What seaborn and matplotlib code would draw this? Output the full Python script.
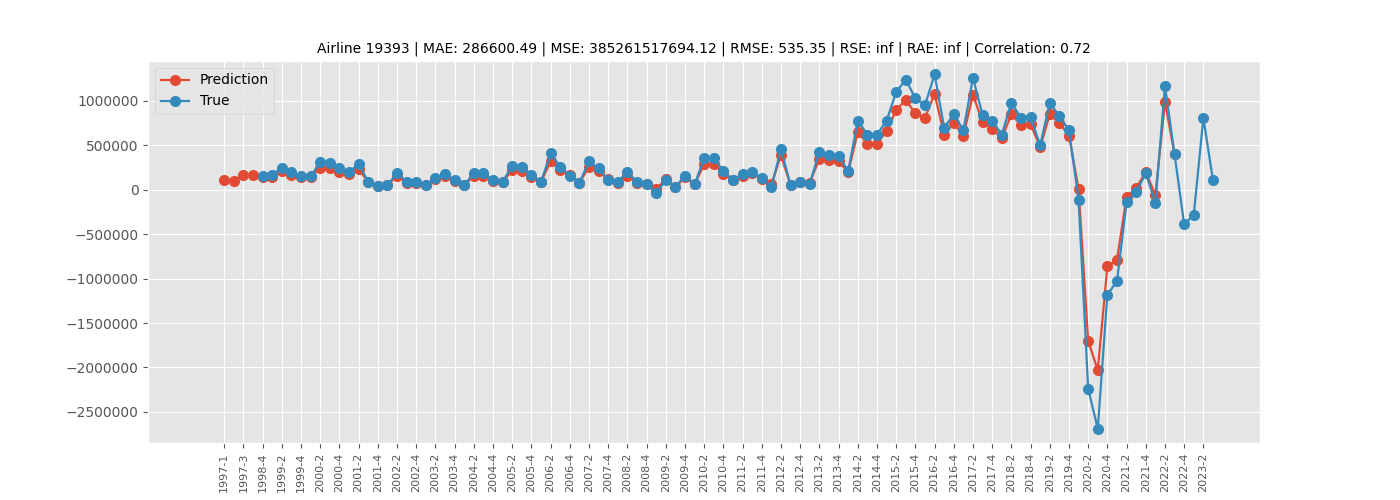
import numpy as np
import pandas as pd
import matplotlib
matplotlib.use("Agg")
import matplotlib.pyplot as plt
import seaborn as sns

plt.style.use("ggplot")

# quarters: 1997-1..1997-4, then 1998-4..2023-3
quarters = ["1997-1", "1997-2", "1997-3", "1997-4"]
for y in range(1998, 2024):
    for q in range(1, 5):
        if (y == 1998 and q < 4) or (y == 2023 and q > 3):
            continue
        quarters.append(f"{y}-{q}")

prediction = [
    110e3, 100e3, 170e3, 170e3, 140e3, 140e3, 210e3, 170e3, 140e3, 140e3,
    250e3, 240e3, 200e3, 180e3, 230e3, 90e3, 40e3, 50e3, 160e3, 80e3,
    80e3, 50e3, 120e3, 160e3, 100e3, 50e3, 160e3, 150e3, 100e3, 90e3,
    220e3, 210e3, 140e3, 90e3, 320e3, 220e3, 170e3, 80e3, 260e3, 210e3,
    120e3, 80e3, 160e3, 80e3, 70e3, 10e3, 120e3, 30e3, 140e3, 60e3,
    290e3, 290e3, 180e3, 110e3, 160e3, 190e3, 120e3, 60e3, 390e3, 50e3,
    90e3, 80e3, 350e3, 330e3, 320e3, 200e3, 650e3, 520e3, 520e3, 660e3,
    900e3, 1010e3, 860e3, 810e3, 1080e3, 620e3, 750e3, 610e3, 1070e3, 760e3,
    690e3, 580e3, 850e3, 730e3, 740e3, 480e3, 850e3, 750e3, 610e3, 10e3,
    -1700e3, -2030e3, -860e3, -790e3, -80e3, 20e3, 200e3, -60e3, 990e3, 400e3,
]
true_vals = [
    np.nan, np.nan, np.nan, np.nan, 150e3, 170e3, 250e3, 200e3, 150e3, 150e3,
    310e3, 300e3, 240e3, 200e3, 290e3, 90e3, 40e3, 50e3, 190e3, 90e3,
    90e3, 50e3, 130e3, 180e3, 110e3, 50e3, 190e3, 190e3, 110e3, 90e3,
    270e3, 260e3, 170e3, 90e3, 410e3, 260e3, 160e3, 80e3, 320e3, 240e3,
    110e3, 90e3, 200e3, 90e3, 70e3, -40e3, 110e3, 30e3, 160e3, 60e3,
    360e3, 360e3, 210e3, 110e3, 180e3, 200e3, 130e3, 30e3, 460e3, 50e3,
    90e3, 70e3, 430e3, 390e3, 380e3, 210e3, 780e3, 620e3, 620e3, 780e3,
    1100e3, 1240e3, 1030e3, 950e3, 1300e3, 700e3, 850e3, 670e3, 1260e3, 840e3,
    780e3, 620e3, 980e3, 810e3, 820e3, 500e3, 980e3, 830e3, 670e3, -110e3,
    -2240e3, -2690e3, -1180e3, -1030e3, -140e3, -30e3, 190e3, -150e3, 1170e3, 400e3,
    -390e3, -280e3, 810e3, 110e3,
]

idx = np.arange(len(quarters))
pred_df = pd.DataFrame({"x": idx[:len(prediction)], "y": prediction})
true_df = pd.DataFrame({"x": idx, "y": true_vals}).dropna()

fig, ax = plt.subplots(figsize=(14, 5), dpi=100)
fig.subplots_adjust(left=0.106, right=0.9, top=0.878, bottom=0.114)

sns.lineplot(data=pred_df, x="x", y="y", ax=ax, color="#E24A33", marker="o",
             markersize=8, markeredgewidth=0, linewidth=1.6, label="Prediction")
sns.lineplot(data=true_df, x="x", y="y", ax=ax, color="#348ABD", marker="o",
             markersize=8, markeredgewidth=0, linewidth=1.6, label="True")

ax.set_xticks(idx[::2])
ax.set_xticklabels(quarters[::2], rotation=90, fontsize=8)
ax.ticklabel_format(axis="y", style="plain", useOffset=False)
ax.tick_params(axis="y", labelsize=10)
ax.set_xlim(-7.9, len(quarters) - 1 + 4.9)
ax.set_ylim(-2850000, 1450000)
ax.set_xlabel("")
ax.set_ylabel("")
ax.set_title("Airline 19393 | MAE: 286600.49 | MSE: 385261517694.12 | RMSE: 535.35 | "
             "RSE: inf | RAE: inf | Correlation: 0.72", fontsize=10)
ax.legend(loc="upper left", fontsize=10)

plt.savefig("out.png", dpi=100)
plt.close()
